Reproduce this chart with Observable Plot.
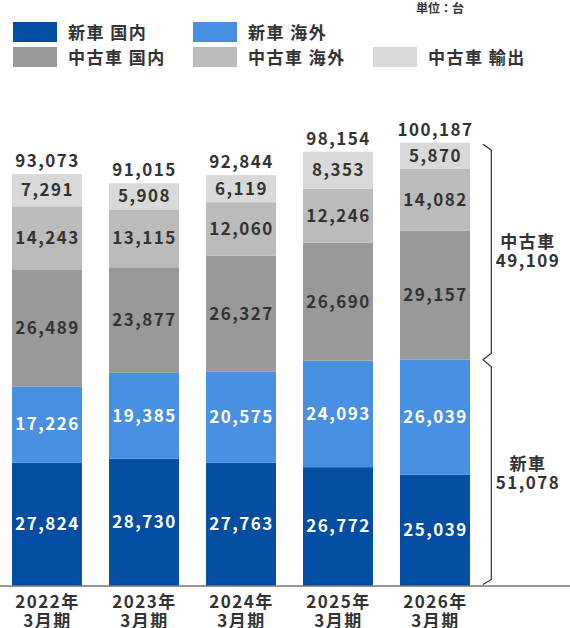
<!DOCTYPE html>
<html><head><meta charset="utf-8">
<script src="https://cdn.jsdelivr.net/npm/d3@7"></script>
<script src="https://cdn.jsdelivr.net/npm/@observablehq/plot@0.6"></script>
<style>
html,body{margin:0;padding:0;background:#fff;}
body{width:570px;height:628px;overflow:hidden;font-family:"Noto Sans CJK JP","Noto Sans",sans-serif;color:#333;}
#legend{position:relative;height:90px;}
.unit{position:absolute;left:416px;top:0;font-size:12px;font-weight:bold;line-height:16px;}
.item{position:absolute;height:20px;}
.sw{position:absolute;left:0;top:0;width:44px;height:20px;}
.lb{position:absolute;left:55px;top:-2px;font-size:17px;font-weight:bold;line-height:24px;white-space:nowrap;letter-spacing:1.5px;}
#chart svg{display:block;}
#chart svg text{letter-spacing:1.5px;font-weight:bold;}
</style></head>
<body>
<div id="legend"></div>
<div id="chart"></div>
<script>
// ---- data ----
const periods = ["2022年\n3月期", "2023年\n3月期", "2024年\n3月期", "2025年\n3月期", "2026年\n3月期"];
const seriesNames = ["新車 国内", "新車 海外", "中古車 国内", "中古車 海外", "中古車 輸出"];
const newDomestic  = [27824, 28730, 27763, 26772, 25039];
const newOverseas  = [17226, 19385, 20575, 24093, 26039];
const usedDomestic = [26489, 23877, 26327, 26690, 29157];
const usedOverseas = [14243, 13115, 12060, 12246, 14082];
const usedExport   = [7291, 5908, 6119, 8353, 5870];
const totals       = [93073, 91015, 92844, 98154, 100187];
const unitLabel = "単位：台";
const groupNames = ["新車", "中古車"];

// ---- styles (kept separate from data) ----
const colors = ["#034ea2", "#4a90e2", "#999999", "#bbbbbb", "#d9d9d9"];
const legendPos = [[13, 22], [193, 22], [13, 47], [193, 47], [373, 47]];

const seriesValues = [newDomestic, newOverseas, usedDomestic, usedOverseas, usedExport];
const fmt = d3.format(",");

// legend
const legend = document.getElementById("legend");
const u = document.createElement("div"); u.className = "unit"; u.textContent = unitLabel; legend.appendChild(u);
seriesNames.forEach((name, i) => {
  const it = document.createElement("div"); it.className = "item";
  it.style.left = legendPos[i][0] + "px"; it.style.top = legendPos[i][1] + "px";
  const sw = document.createElement("div"); sw.className = "sw"; sw.style.background = colors[i];
  const lb = document.createElement("div"); lb.className = "lb"; lb.textContent = name;
  it.appendChild(sw); it.appendChild(lb); legend.appendChild(it);
});

// rows
const rows = [];
periods.forEach((p, i) => seriesValues.forEach((vals, s) => rows.push({period: p, series: seriesNames[s], s, value: vals[i]})));
const totalRows = periods.map((p, i) => ({period: p, total: totals[i]}));
const last = periods.length - 1;
const lastPeriod = periods[last];
const newTotal = newDomestic[last] + newOverseas[last];
const usedTotal = usedDomestic[last] + usedOverseas[last] + usedExport[last];
const groupRows = [
  {label: groupNames[0], value: newTotal, mid: newTotal / 2},
  {label: groupNames[1], value: usedTotal, mid: newTotal + usedTotal / 2}
];

function bracket(index, scales) {
  const x = scales.x, y = scales.y;
  const bw = x.bandwidth ? x.bandwidth() : 71;
  const vx = x(lastPeriod) + bw + 21.3;
  const tx = vx - 8.3;
  const top = y(totals[last]), mid = y(newTotal), bot = y(0);
  const d = `M${tx},${top + 1.5}L${vx},${top + 7.5}L${vx},${mid - 6.5}L${tx},${mid}L${vx},${mid + 7}L${vx},${bot - 6}L${tx},${bot - 1}`;
  return d3.create("svg:path").attr("d", d).attr("fill", "none").attr("stroke", "#333").attr("stroke-width", 1.2).node();
}

const chart = Plot.plot({
  width: 570, height: 538,
  marginTop: 53.5, marginBottom: 42.5, marginLeft: 0, marginRight: 0,
  style: {fontFamily: "'Noto Sans CJK JP', 'Noto Sans', sans-serif", fontSize: "17px", color: "#333", background: "#fff"},
  x: {domain: periods, range: [10, 473], paddingInner: 27 / 98, paddingOuter: 0, axis: null},
  y: {domain: [0, 100000], axis: null},
  color: {type: "identity"},
  marks: [
    Plot.barY(rows, {x: "period", y: "value", z: "series", fill: d => colors[d.s]}),
    Plot.text(rows, Plot.stackY({x: "period", y: "value", z: "series", text: d => fmt(d.value),
      fill: d => d.s < 2 ? "#ffffff" : "#333333", fontSize: 17, fontWeight: "bold"})),
    Plot.text(totalRows, {x: "period", y: "total", text: d => fmt(d.total), dy: -13, fill: "#333", fontSize: 17, fontWeight: "bold"}),
    Plot.ruleY([0], {stroke: "#333", strokeWidth: 1}),
    Plot.axisX({tickSize: 0, tickPadding: 9, fontSize: 17, fontWeight: "bold", lineHeight: 1.1, label: null}),
    bracket,
    Plot.text(groupRows, {x: () => lastPeriod, y: "mid", text: d => `${d.label}\n${fmt(d.value)}`, dx: 92.5,
      lineHeight: 1.12, fill: "#333", fontSize: 17, fontWeight: "bold"})
  ]
});
document.getElementById("chart").appendChild(chart);
</script>
</body></html>
